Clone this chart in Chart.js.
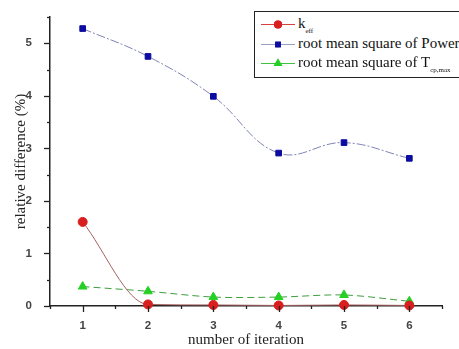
<!DOCTYPE html>
<html>
<head>
<meta charset="utf-8">
<script src="https://cdn.jsdelivr.net/npm/chart.js@4"></script>
<style>
  body { margin: 0; background: #fff; }
  #wrap { position: relative; width: 459px; height: 349px; overflow: hidden; }
  #legend {
    position: absolute; left: 254px; top: 11px; width: 220px; height: 65px;
    border: 1px solid #222; background: #fff;
    font-family: "Liberation Serif", "Times New Roman", serif; font-size: 15px; color: #111;
  }
  .row { position: absolute; left: 0; height: 18px; line-height: 18px; white-space: nowrap; }
  .row canvas { position: absolute; left: 6px; top: 0; }
  .row span { position: absolute; left: 43px; top: -1px; }
  sub { font-size: 7px; vertical-align: -5px; }
</style>
</head>
<body>
<div id="wrap">
  <canvas id="chart" width="459" height="349"></canvas>
  <div id="legend">
    <div class="row" style="top:3px"><canvas id="lg0" width="36" height="18"></canvas><span>k<sub>eff</sub></span></div>
    <div class="row" style="top:23px"><canvas id="lg1" width="36" height="18"></canvas><span>root mean square of Power</span></div>
    <div class="row" style="top:42px"><canvas id="lg2" width="36" height="18"></canvas><span>root mean square of T<sub>cp,max</sub></span></div>
  </div>
</div>
<script>
// values
const iterations = [1, 2, 3, 4, 5, 6];
const kEff = [1.6, 0.03, 0.02, 0.01, 0.02, 0.01];
const rmsPower = [5.28, 4.75, 3.99, 2.91, 3.11, 2.81];
const rmsTemp = [0.37, 0.28, 0.17, 0.17, 0.21, 0.09];
const yTicks = [0, 1, 2, 3, 4, 5];

const toPoints = (vals) => iterations.map((it, i) => ({ x: it, y: vals[i] }));

// draw major/minor ticks outside the axes like the original plot
const minorTicks = {
  id: 'minorTicks',
  afterDraw(chart) {
    const ctx = chart.ctx;
    const xs = chart.scales.x, ys = chart.scales.y;
    const area = chart.chartArea;
    ctx.save();
    ctx.strokeStyle = '#222';
    ctx.lineWidth = 1.3;
    for (let v = 0.5; v <= 6.5; v += 0.5) {
      const px = Math.round(xs.getPixelForValue(v)) + 0.5;
      const len = Number.isInteger(v) ? 6 : 3;
      ctx.beginPath();
      ctx.moveTo(px, area.bottom);
      ctx.lineTo(px, area.bottom + len);
      ctx.stroke();
    }
    for (let v = 0; v <= 5.5; v += 0.5) {
      const py = Math.round(ys.getPixelForValue(v)) + 0.5;
      const len = Number.isInteger(v) ? 6 : 3;
      ctx.beginPath();
      ctx.moveTo(area.left, py);
      ctx.lineTo(area.left - len, py);
      ctx.stroke();
    }
    ctx.restore();
  }
};

new Chart(document.getElementById('chart'), {
  type: 'line',
  data: {
    datasets: [
      {
        label: 'k_eff',
        data: toPoints(kEff),
        borderColor: '#a86060',
        borderWidth: 1,
        pointBackgroundColor: '#d81e1e',
        pointBorderColor: '#d81e1e',
        pointStyle: 'circle',
        pointRadius: 4.5,
        cubicInterpolationMode: 'monotone',
        clip: false
      },
      {
        label: 'root mean square of Power',
        data: toPoints(rmsPower),
        borderColor: '#7f84b4',
        borderWidth: 1,
        borderDash: [9, 2, 2, 2],
        pointBackgroundColor: '#0c0ca0',
        pointBorderColor: '#0c0ca0',
        pointStyle: 'rect',
        pointRadius: 4,
        tension: 0.4,
        clip: false
      },
      {
        label: 'root mean square of T',
        data: toPoints(rmsTemp),
        borderColor: '#3e9e3e',
        borderWidth: 1,
        borderDash: [7, 4],
        pointBackgroundColor: '#24d024',
        pointBorderColor: '#24d024',
        pointStyle: 'triangle',
        pointRadius: 5,
        tension: 0.3,
        clip: false
      }
    ]
  },
  options: {
    responsive: false,
    animation: false,
    layout: { padding: { top: 17, right: 17, left: 0, bottom: 0 } },
    plugins: { legend: { display: false }, tooltip: { enabled: false } },
    scales: {
      x: {
        type: 'linear',
        min: 0.5,
        max: 6.5,
        afterBuildTicks: (s) => { s.ticks = iterations.map(v => ({ value: v })); },
        afterFit: (s) => { s.height = 43; },
        grid: { display: false },
        border: { display: true, color: '#222', width: 1.5 },
        ticks: {
          color: '#444',
          padding: 5,
          font: { family: 'Liberation Sans', size: 11.5, weight: 'bold' }
        },
        title: {
          display: true,
          text: 'number of iteration',
          color: '#222',
          padding: { top: 8, bottom: 0 },
          font: { family: 'Liberation Serif', size: 15 }
        }
      },
      y: {
        min: 0,
        max: 5.5,
        afterBuildTicks: (s) => { s.ticks = yTicks.map(v => ({ value: v })); },
        afterFit: (s) => { s.width = 50; },
        grid: { display: false },
        border: { display: true, color: '#222', width: 1.5 },
        ticks: {
          color: '#444',
          padding: 10,
          font: { family: 'Liberation Sans', size: 11.5, weight: 'bold' }
        },
        title: {
          display: true,
          text: 'relative difference (%)',
          color: '#222',
          padding: { top: 12, bottom: 0 },
          font: { family: 'Liberation Serif', size: 15 }
        }
      }
    }
  },
  plugins: [minorTicks]
});

// legend samples: line with marker in the middle
const samples = [
  { line: '#d84040', fill: '#d81e1e', shape: 'circle' },
  { line: '#9a9ec8', fill: '#0c0ca0', shape: 'rect' },
  { line: '#40c040', fill: '#24d024', shape: 'triangle' }
];
samples.forEach((s, i) => {
  const c = document.getElementById('lg' + i).getContext('2d');
  c.strokeStyle = s.line;
  c.lineWidth = 1;
  c.beginPath();
  c.moveTo(0, 9.5);
  c.lineTo(34, 9.5);
  c.stroke();
  c.fillStyle = s.fill;
  Chart.helpers.drawPoint(c, { pointStyle: s.shape, radius: s.shape === 'triangle' ? 5 : 4, borderWidth: 0 }, 17, 9.5);
  c.fill();
});
</script>
</body>
</html>
